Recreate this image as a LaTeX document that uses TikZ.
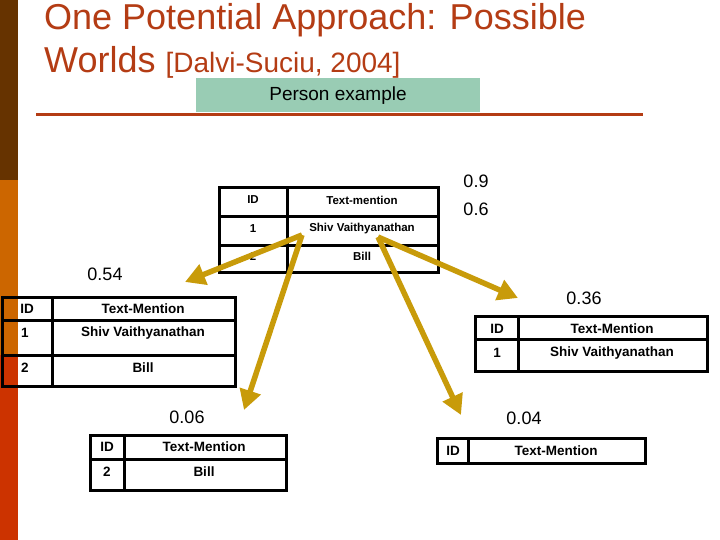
\documentclass[tikz,border=0pt]{standalone}
\usepackage{fontspec}
\setmainfont{Liberation Sans}
\usetikzlibrary{arrows.meta}
\definecolor{titlered}{RGB}{180,60,20}
\definecolor{barbrown}{RGB}{102,51,0}
\definecolor{barorange}{RGB}{204,102,0}
\definecolor{barred}{RGB}{204,51,0}
\definecolor{boxgreen}{RGB}{153,204,180}
\definecolor{gold}{RGB}{200,155,10}
\tikzset{
  tbl/.style={line width=3pt, draw=black},
  cellA/.style={font=\fontsize{11.5}{12}\selectfont\bfseries, inner sep=0pt},
  cellB/.style={font=\fontsize{13.5}{14}\selectfont\bfseries, inner sep=0pt},
  prob/.style={font=\fontsize{18}{18}\selectfont, inner sep=0pt},
  arr/.style={draw=gold, line width=5.5pt, -{Triangle[width=21pt,length=20pt]}},
}
\begin{document}
\begin{tikzpicture}[x=1pt,y=-1pt]
\useasboundingbox (0,0) rectangle (720,540);
% left bar
\fill[barbrown] (0,0) rectangle (18,180);
\fill[barorange] (0,180) rectangle (18,355);
\fill[barred] (0,355) rectangle (18,540);
% title
\node[anchor=base west, inner sep=0pt, text=titlered, font=\fontsize{36}{36}\selectfont] (t1) at (44,30) {One Potential Approach: Possible};
\node[anchor=base west, inner sep=0pt, text=titlered, font=\fontsize{36}{36}\selectfont] (t2) at (44,73) {Worlds {\fontsize{28}{28}\selectfont [Dalvi-Suciu, 2004]}};
% person example box
\fill[boxgreen] (196,78) rectangle (480,112);
\node[font=\fontsize{19}{19}\selectfont, inner sep=0pt] (pe) at (338,96) {Person example};
\draw[titlered, line width=3pt] (36,114.5) -- (643,114.5);

% top table
\draw[tbl] (219,188) rectangle (438,272);
\draw[tbl] (287,188) -- (287,272);
\draw[tbl] (219,217) -- (438,217);
\draw[tbl] (219,245) -- (438,245);
\node[cellA] (a11) at (253,200) {ID};
\node[cellA] (a12) at (362,200) {Text-mention};
\node[cellA] (a21) at (253,229) {1};
\node[cellA] (a22) at (362,229) {Shiv Vaithyanathan};
\node[cellA] (a31) at (253,256) {2};
\node[cellA] (a32) at (362,256) {Bill};
\node[prob] (p9) at (476,181) {0.9};
\node[prob] (p6) at (476,209) {0.6};

% left table
\draw[tbl] (2,297) rectangle (235,386);
\draw[tbl] (52,297) -- (52,386);
\draw[tbl] (2,320) -- (235,320);
\draw[tbl] (2,355) -- (235,355);
\node[cellB] (b11) at (27,309) {ID};
\node[cellB] (b12) at (143,309) {Text-Mention};
\node[cellB] (b21) at (25,333) {1};
\node[cellB] (b22) at (143,333) {Shiv Vaithyanathan};
\node[cellB] (b31) at (25,368) {2};
\node[cellB] (b32) at (143,368) {Bill};
\node[prob] (p54) at (105,274) {0.54};

% right table
\draw[tbl] (475,316) rectangle (707,371);
\draw[tbl] (518,316) -- (518,371);
\draw[tbl] (475,339) -- (707,339);
\node[cellB] (c11) at (497,329) {ID};
\node[cellB] (c12) at (612,329) {Text-Mention};
\node[cellB] (c21) at (497,353) {1};
\node[cellB] (c22) at (612,353) {Shiv Vaithyanathan};
\node[prob] (p36) at (584,298) {0.36};

% bottom-left table
\draw[tbl] (90,435) rectangle (286,490);
\draw[tbl] (124,435) -- (124,490);
\draw[tbl] (90,459) -- (286,459);
\node[cellB] (d11) at (107,447) {ID};
\node[cellB] (d12) at (204,447) {Text-Mention};
\node[cellB] (d21) at (107,472) {2};
\node[cellB] (d22) at (204,472) {Bill};
\node[prob] (p06) at (187,417) {0.06};

% bottom-right table
\draw[tbl] (437,438) rectangle (645,463);
\draw[tbl] (468,438) -- (468,463);
\node[cellB] (e11) at (453,451) {ID};
\node[cellB] (e12) at (556,451) {Text-Mention};
\node[prob] (p04) at (524,418) {0.04};

% arrows
\coordinate (s1) at (302,235);
\coordinate (s2) at (378,237);
\coordinate (e1) at (185,282);
\coordinate (e2) at (244,410);
\coordinate (e3) at (461,415);
\coordinate (e4) at (518,298);
\draw[arr] (s1) -- (e1);
\draw[arr] (s1) -- (e2);
\draw[arr] (s2) -- (e3);
\draw[arr] (s2) -- (e4);
\end{tikzpicture}
\end{document}
